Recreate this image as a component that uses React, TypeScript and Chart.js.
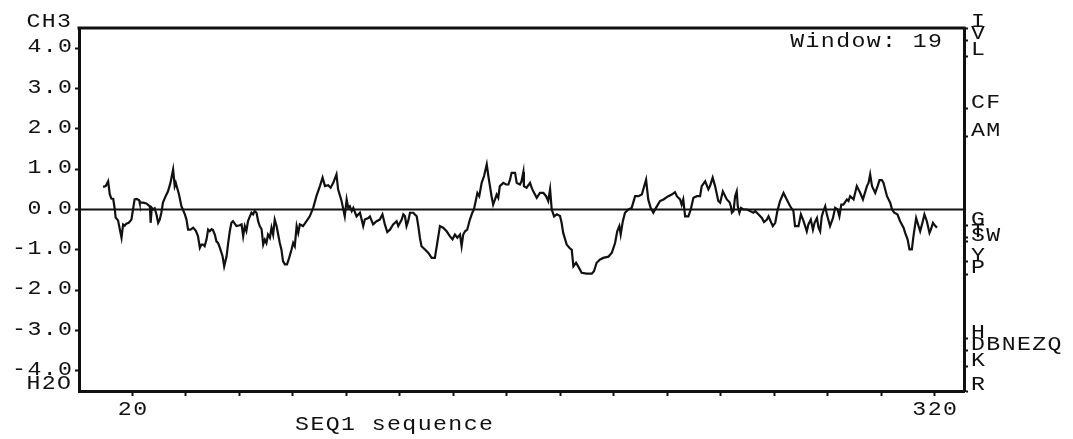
import React, { useEffect, useRef } from "react";
import { Chart, registerables } from "chart.js";

Chart.register(...registerables);

// Residue positions (window centre) and Kyte-Doolittle hydropathy values
const positions = [
  9.0, 10.0, 10.9, 11.5, 12.1, 12.8, 13.4, 13.7, 14.6, 15.9, 16.5, 17.1, 17.7, 18.6, 19.6, 20.2, 20.8, 21.6, 22.5, 22.7,
  24.0, 25.2, 26.5, 26.8, 27.2, 27.7, 28.3, 29.0, 29.6, 30.2, 30.8, 31.4, 32.4, 33.3, 34.2, 35.2, 35.8, 36.2, 36.7, 37.4,
  38.3, 39.6, 40.2, 40.8, 41.7, 42.7, 43.7, 44.5, 45.2, 45.8, 46.4, 47.0, 47.7, 48.3, 48.9, 49.6, 50.1, 50.8, 51.4, 52.0,
  52.7, 53.7, 54.3, 55.2, 55.8, 56.4, 57.0, 57.6, 58.9, 60.1, 60.8, 61.4, 62.0, 62.6, 63.2, 63.9, 64.5, 65.1, 65.7, 66.4,
  67.0, 67.6, 68.3, 68.9, 69.5, 70.1, 70.7, 71.4, 72.0, 72.6, 73.2, 73.9, 74.5, 75.1, 75.7, 76.3, 77.0, 77.8, 78.6, 79.5,
  80.1, 80.7, 81.4, 82.0, 82.6, 83.8, 85.1, 86.3, 87.6, 88.8, 90.1, 91.1, 92.0, 93.2, 94.1, 95.1, 96.3, 96.9, 98.2, 99.4,
  100.1, 100.7, 101.3, 102.0, 102.6, 103.8, 105.1, 106.3, 106.9, 108.2, 108.8, 110.0, 111.3, 112.5, 113.5, 114.4, 115.3, 116.3, 117.5, 118.8,
  119.4, 120.7, 121.3, 121.9, 122.5, 123.1, 123.8, 125.0, 126.3, 126.9, 127.5, 128.1, 129.4, 130.6, 131.9, 133.1, 133.8, 134.4, 135.0, 136.2,
  137.5, 138.7, 139.7, 140.6, 141.5, 142.5, 143.1, 143.7, 144.4, 145.2, 146.2, 147.1, 147.7, 148.5, 149.0, 149.7, 150.6, 151.5, 152.5, 153.1,
  153.7, 154.3, 154.9, 155.6, 156.2, 156.8, 157.4, 158.7, 159.7, 160.6, 161.2, 161.8, 163.1, 163.7, 164.9, 165.5, 166.2, 166.4, 167.4, 168.7,
  169.3, 169.9, 171.2, 172.4, 173.7, 174.7, 175.5, 176.2, 176.8, 177.7, 178.7, 179.9, 180.5, 181.1, 182.4, 183.4, 184.3, 184.9, 185.9, 186.7,
  188.0, 189.9, 191.8, 192.6, 193.6, 194.9, 196.1, 198.0, 199.3, 200.5, 201.3, 202.1, 202.6, 203.4, 204.2, 205.5, 206.7, 208.0, 209.2, 210.5,
  212.1, 212.9, 213.8, 214.8, 215.8, 217.3, 218.6, 220.4, 221.7, 222.9, 223.6, 224.8, 225.4, 226.0, 226.7, 227.9, 228.8, 229.8, 231.1, 232.3,
  232.9, 234.2, 235.4, 236.0, 237.0, 237.9, 239.1, 239.8, 240.8, 241.7, 242.3, 243.3, 243.8, 244.2, 244.8, 245.4, 246.0, 246.4, 247.0, 247.6,
  248.5, 249.8, 251.0, 252.2, 252.9, 254.1, 255.4, 256.2, 257.3, 257.9, 258.8, 259.5, 260.4, 261.2, 262.2, 263.5, 264.7, 266.0, 267.2, 267.8,
  269.1, 270.0, 271.0, 272.2, 272.8, 273.7, 274.5, 275.1, 276.0, 276.6, 277.2, 277.8, 278.4, 279.1, 279.7, 280.9, 282.0, 282.8, 283.7, 284.4,
  285.1, 285.9, 287.2, 287.8, 288.4, 289.7, 290.9, 292.2, 293.2, 294.7, 295.3, 295.9, 296.6, 297.8, 298.7, 299.4, 300.3, 300.9, 302.2, 303.4,
  304.1, 304.9, 306.1, 307.1, 308.4, 309.0, 309.9, 310.6, 311.5, 312.1, 313.1, 314.0, 314.6, 315.6, 316.2, 317.1, 318.1, 318.6, 319.4, 320.3,
  320.9,
];

const hydropathy = [
  0.56, 0.58, 0.70, 0.38, 0.27, 0.26, 0.0, -0.2, -0.27, -0.70, -0.37, -0.4, -0.35, -0.33, -0.25, 0.0, 0.25, 0.26, 0.23, 0.17,
  0.17, 0.15, 0.08, -0.33, 0.04, 0.0, 0.03, -0.13, -0.33, -0.25, -0.08, 0.17, 0.33, 0.45, 0.66, 0.99, 0.58, 0.66, 0.54, 0.37,
  0.08, -0.12, -0.25, -0.5, -0.5, -0.45, -0.53, -0.66, -0.95, -0.87, -0.87, -0.91, -0.74, -0.50, -0.54, -0.49, -0.51, -0.62, -0.79, -0.83,
  -0.95, -1.16, -1.41, -1.16, -0.83, -0.54, -0.33, -0.29, -0.41, -0.39, -0.37, -0.66, -0.41, -0.53, -0.29, -0.17, -0.08, -0.12, -0.04, -0.08,
  -0.29, -0.41, -0.49, -0.87, -0.75, -0.83, -0.62, -0.70, -0.45, -0.62, -0.25, -0.41, -0.62, -0.83, -0.99, -1.28, -1.36, -1.36, -1.20, -0.99,
  -0.83, -0.91, -0.41, -0.58, -0.37, -0.41, -0.29, -0.17, 0.04, 0.33, 0.58, 0.79, 0.58, 0.60, 0.54, 0.66, 0.87, 0.50, 0.21, -0.17,
  0.25, 0.04, 0.08, -0.04, 0.04, -0.17, -0.08, -0.41, -0.25, -0.21, -0.17, -0.37, -0.29, -0.25, -0.12, -0.37, -0.56, -0.50, -0.37, -0.29,
  -0.41, -0.25, -0.12, -0.16, -0.41, -0.29, -0.08, -0.08, -0.17, -0.41, -0.70, -0.91, -0.99, -1.07, -1.20, -1.20, -0.91, -0.66, -0.41, -0.45,
  -0.54, -0.66, -0.74, -0.62, -0.70, -0.62, -0.91, -0.62, -0.54, -0.50, -0.25, -0.08, 0.0, 0.25, 0.41, 0.33, 0.66, 0.83, 1.12, 0.83,
  0.58, 0.33, 0.12, 0.25, 0.37, 0.29, 0.58, 0.66, 0.62, 0.62, 0.74, 0.91, 0.91, 0.66, 0.62, 0.70, 0.93, 0.58, 0.54, 0.66,
  0.54, 0.45, 0.29, 0.41, 0.41, 0.33, 0.21, 0.50, 0.0, -0.17, -0.12, -0.16, -0.33, -0.58, -0.87, -0.95, -1.0, -1.41, -1.32, -1.41,
  -1.57, -1.59, -1.59, -1.53, -1.32, -1.24, -1.20, -1.17, -1.07, -0.83, -0.54, -0.41, -0.62, -0.29, -0.08, 0.0, 0.04, 0.33, 0.33, 0.37,
  0.74, 0.25, 0.04, -0.08, 0.04, 0.21, 0.25, 0.33, 0.37, 0.43, 0.33, 0.25, 0.12, 0.25, -0.17, -0.17, 0.0, 0.29, 0.33, 0.33,
  0.58, 0.70, 0.50, 0.58, 0.79, 0.58, 0.21, 0.17, 0.45, 0.33, 0.25, 0.18, 0.08, -0.08, -0.04, 0.33, 0.45, 0.08, -0.08, 0.04,
  0.0, 0.0, -0.04, -0.08, -0.04, -0.12, -0.21, -0.31, -0.25, -0.17, -0.31, -0.41, -0.33, -0.04, 0.21, 0.41, 0.25, 0.08, -0.04, -0.41,
  -0.41, -0.12, -0.29, -0.54, -0.37, -0.25, -0.50, -0.33, -0.21, -0.45, -0.54, -0.17, -0.04, 0.08, -0.12, -0.41, -0.21, 0.04, 0.0, -0.17,
  0.12, 0.12, 0.25, 0.21, 0.33, 0.25, 0.58, 0.41, 0.25, 0.58, 0.66, 0.87, 0.58, 0.41, 0.58, 0.73, 0.73, 0.66, 0.33, 0.17,
  0.0, -0.08, -0.12, -0.29, -0.45, -0.58, -0.74, -0.99, -0.99, -0.66, -0.21, -0.41, -0.54, -0.29, -0.12, -0.29, -0.58, -0.50, -0.33, -0.41,
  -0.45,
];

const xTickValues = [20, 40, 60, 80, 100, 120, 140, 160, 180, 200, 220, 240, 260, 280, 300, 320];
const xTickLabels = ["20", "", "", "", "", "", "", "", "", "", "", "", "", "", "", "320"];
const yTickValues = [-4, -3, -2, -1, 0, 1, 2, 3, 4];
const aaLabels = ["I", "V", "L", "CF", "AM", "G", "T", "SW", "Y", "P", "H", "DBNEZQ", "K", "R"];
const aaValues = [4.5, 4.2, 3.8, 2.5, 1.8, -0.4, -0.7, -0.8, -1.3, -1.6, -3.2, -3.5, -3.9, -4.5];
const xTitle = "SEQ1 sequence";
const windowLabel = "Window: 19";
const topLabel = "CH3";
const bottomLabel = "H2O";

const FONT = "'Liberation Mono', 'DejaVu Sans Mono', monospace";
const FONT_SIZE = 20;
const STRETCH = 1.16;
const SPACING = 1.4;
const CAP = 13;
const INK = "#111";

function spaced(ctx: CanvasRenderingContext2D, text: string, x: number, y: number, align: "left" | "right" | "center") {
  const adv = ctx.measureText("0").width * STRETCH + SPACING;
  const total = text.length * adv - SPACING;
  const sx = align === "right" ? x - total : align === "center" ? x - total / 2 : x;
  ctx.textAlign = "left";
  for (let i = 0; i < text.length; i++) {
    ctx.save();
    ctx.translate(sx + i * adv, y);
    ctx.scale(STRETCH, 1);
    ctx.fillText(text[i], 0, 0);
    ctx.restore();
  }
}

export default function App() {
  const ref = useRef<HTMLCanvasElement | null>(null);

  useEffect(() => {
    const canvas = ref.current;
    if (!canvas) return;

    const overlay = {
      id: "overlay",
      afterDraw(chart: any) {
        const { ctx, chartArea, scales } = chart;
        ctx.save();
        ctx.strokeStyle = INK;
        // zero line
        const y0 = scales.y.getPixelForValue(0);
        ctx.lineWidth = 2;
        ctx.beginPath();
        ctx.moveTo(chartArea.left, y0);
        ctx.lineTo(chartArea.right, y0);
        ctx.stroke();
        // top border
        ctx.lineWidth = 3;
        ctx.beginPath();
        ctx.moveTo(chartArea.left - 1.5, chartArea.top);
        ctx.lineTo(chartArea.right + 1.5, chartArea.top);
        ctx.stroke();

        ctx.fillStyle = INK;
        ctx.font = `${FONT_SIZE}px ${FONT}`;
        ctx.textBaseline = "alphabetic";
        // left tick labels
        yTickValues.forEach((v) => {
          const py = scales.y.getPixelForValue(v);
          spaced(ctx, v.toFixed(1), 72, py + CAP / 2 - 2.5, "right");
        });
        spaced(ctx, topLabel, 71, chartArea.top - 1, "right");
        spaced(ctx, bottomLabel, 71, chartArea.bottom - 2, "right");
        // bottom tick labels
        xTickValues.forEach((v, i) => {
          if (!xTickLabels[i]) return;
          const px = scales.x.getPixelForValue(v);
          spaced(ctx, xTickLabels[i], px, 415, "center");
        });
        // window label
        spaced(ctx, windowLabel, 942, 47, "right");
        // amino-acid labels
        aaLabels.forEach((lab, i) => {
          const py = scales.y2.getPixelForValue(aaValues[i]);
          spaced(ctx, lab, chartArea.right + 7, py - 1, "left");
        });
        // x title
        spaced(ctx, xTitle, 394, 430, "center");
        ctx.restore();
      },
    };

    const chart = new Chart(canvas, {
      type: "line",
      data: {
        datasets: [
          {
            data: positions.map((p, i) => ({ x: p, y: hydropathy[i] })),
            borderColor: INK,
            borderWidth: 2.2,
            pointRadius: 0,
            tension: 0,
            fill: false,
          },
        ],
      },
      options: {
        animation: false,
        responsive: false,
        devicePixelRatio: 1,
        layout: { padding: { top: 28, left: 0, right: 0, bottom: 0 } },
        plugins: { legend: { display: false }, tooltip: { enabled: false } },
        scales: {
          x: {
            type: "linear",
            min: 0,
            max: 331,
            afterBuildTicks: (axis: any) => {
              axis.ticks = xTickValues.map((v) => ({ value: v }));
            },
            afterFit: (scale: any) => {
              scale.height = 48;
            },
            ticks: { autoSkip: false, maxRotation: 0, callback: () => "" },
            grid: { drawOnChartArea: false, drawTicks: true, tickLength: 5, tickColor: INK, tickWidth: 2 },
            border: { display: true, color: INK, width: 3 },
          },
          y: {
            type: "linear",
            position: "left",
            min: -4.5,
            max: 4.5,
            afterBuildTicks: (axis: any) => {
              axis.ticks = yTickValues.map((v) => ({ value: v }));
            },
            afterFit: (scale: any) => {
              scale.width = 79;
            },
            ticks: { autoSkip: false, callback: () => "" },
            grid: { drawOnChartArea: false, drawTicks: true, tickLength: 4, tickColor: INK, tickWidth: 2 },
            border: { display: true, color: INK, width: 3 },
          },
          y2: {
            type: "linear",
            position: "right",
            min: -4.5,
            max: 4.5,
            afterBuildTicks: (axis: any) => {
              axis.ticks = aaValues.map((v) => ({ value: v }));
            },
            afterFit: (scale: any) => {
              scale.width = 109;
            },
            ticks: { autoSkip: false, callback: () => "" },
            grid: { drawOnChartArea: false, drawTicks: true, tickLength: 4, tickColor: INK, tickWidth: 2 },
            border: { display: true, color: INK, width: 3 },
          },
        },
      },
      plugins: [overlay],
    } as any);

    return () => chart.destroy();
  }, []);

  return (
    <div style={{ position: "fixed", left: 0, top: 0, width: 1073, height: 439, background: "#fff" }}>
      <canvas ref={ref} width={1073} height={439} />
    </div>
  );
}
